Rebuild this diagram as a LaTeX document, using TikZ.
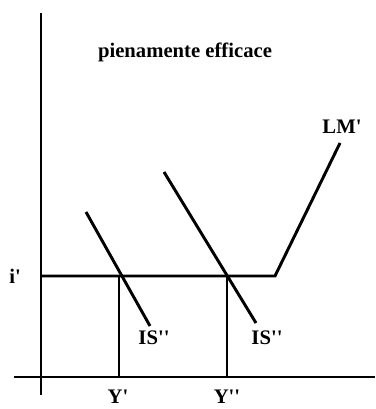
\documentclass[tikz,border=0pt]{standalone}
\usepackage{fontspec}
\setmainfont{Liberation Serif}
\usepackage{tikz}
\usetikzlibrary{positioning, calc}
\newcommand{\pr}{\textquotesingle}
\tikzstyle{axis} = [line width=1.5pt]
\tikzstyle{curve} = [line width=2.2pt]
\tikzstyle{guide} = [line width=1pt]
\tikzstyle{lbl} = [font=\fontsize{15.5}{17}\selectfont\bfseries, inner sep=0pt]

\begin{document}
\begin{tikzpicture}[x=0.75pt, y=-0.75pt]
        \useasboundingbox (0,0) rectangle (375,409);
        % Axes
        \coordinate (ytop) at (41,13);
        \coordinate (ybot) at (41,395);
        \coordinate (xleft) at (14,377);
        \coordinate (xright) at (375,377);
        \draw[axis] (ytop) -- (ybot);
        \draw[axis] (xleft) -- (xright);

        % LM' curve
        \coordinate (lmstart) at (40,276);
        \coordinate (lmkink) at (275,276);
        \coordinate (lmtop) at (340,143);
        \draw[curve] (lmstart) -- (lmkink) -- (lmtop);

        % IS curves
        \coordinate (is1top) at (86,212);
        \coordinate (is1bot) at (150,326);
        \coordinate (is2top) at (164,172);
        \coordinate (is2bot) at (256,323);
        \draw[curve] (is1top) -- (is1bot);
        \draw[curve] (is2top) -- (is2bot);

        % Guide lines
        \coordinate (e1) at (119,276);
        \coordinate (e2) at (227,276);
        \coordinate (y1) at (119,377);
        \coordinate (y2) at (227,377);
        \draw[guide] (e1) -- (y1);
        \draw[guide] (e2) -- (y2);

        % Labels
        \node (title) [lbl] at (185,52) {pienamente efficace};
        \node (lm) [lbl] at (342,127) {LM\pr};
        \node (i1) [lbl] at (15,276) {i\pr};
        \node (is1) [lbl] at (154,338) {IS\pr\pr};
        \node (is2) [lbl] at (267,338) {IS\pr\pr};
        \node (ylbl1) [lbl] at (118,397) {Y\pr};
        \node (ylbl2) [lbl] at (227,397) {Y\pr\pr};
    \end{tikzpicture}
\end{document}
